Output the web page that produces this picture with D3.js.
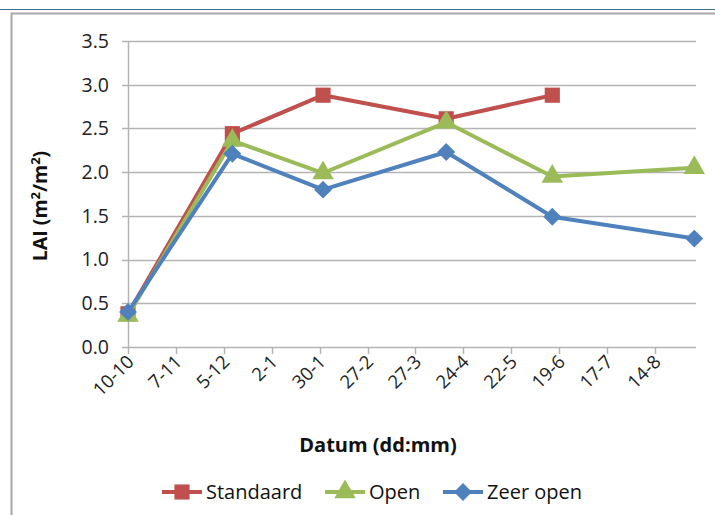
<!DOCTYPE html>
<html>
<head>
<meta charset="utf-8">
<script src="https://cdn.jsdelivr.net/npm/d3@7"></script>
<style>
  body { margin: 0; background: #fff; }
  svg { display: block; font-family: "Open Sans", sans-serif; }
</style>
</head>
<body>
<svg id="chart" width="715" height="515"></svg>
<script>
// data
var dates = ["2012-10-10", "2012-12-10", "2013-02-01", "2013-04-14", "2013-06-15", "2013-09-06"];
var standaard = [0.38, 2.44, 2.88, 2.61, 2.88, null];
var open = [0.36, 2.36, 1.99, 2.57, 1.95, 2.05];
var zeerOpen = [0.40, 2.21, 1.80, 2.23, 1.49, 1.24];

var tickDates = ["2012-10-10", "2012-11-07", "2012-12-05", "2013-01-02", "2013-01-30", "2013-02-27",
  "2013-03-27", "2013-04-24", "2013-05-22", "2013-06-19", "2013-07-17", "2013-08-14"];
var yTicks = [0, 0.5, 1, 1.5, 2, 2.5, 3, 3.5];

var parse = d3.utcParse("%Y-%m-%d");
var fmt = d3.utcFormat("%-d-%-m");

var svg = d3.select("#chart");

// outer frame
svg.append("line").attr("x1", 0).attr("x2", 715).attr("y1", 9.5).attr("y2", 9.5)
  .style("stroke", "#3a7090").style("stroke-width", 1.2);
svg.append("rect").attr("x", 11.5).attr("y", 13.5).attr("width", 720).attr("height", 520)
  .style("fill", "none").style("stroke", "#a8a8a8").style("stroke-width", 2);

var margin = { left: 128, right: 696, top: 41, bottom: 347 };

var x = d3.scaleUtc()
  .domain([parse("2012-10-10"), parse("2013-09-07")])
  .range([margin.left, margin.right]);

var y = d3.scaleLinear()
  .domain([0, 3.5])
  .range([margin.bottom, margin.top]);

// horizontal gridlines + y labels
var gy = svg.append("g");
gy.selectAll("line").data(yTicks).enter().append("line")
  .attr("x1", margin.left - 6).attr("x2", margin.right)
  .attr("y1", function (d) { return Math.round(y(d)) + 0.5; })
  .attr("y2", function (d) { return Math.round(y(d)) + 0.5; })
  .style("stroke", "#b4b4b4").style("stroke-width", 1.5);
gy.selectAll("text").data(yTicks).enter().append("text")
  .attr("x", 109).attr("y", function (d) { return y(d); })
  .attr("dy", "0.35em")
  .attr("text-anchor", "end")
  .style("font-size", "19.5px").style("fill", "#222")
  .text(function (d) { return d.toFixed(1); });

// y axis line
svg.append("line").attr("x1", margin.left + 0.5).attr("x2", margin.left + 0.5)
  .attr("y1", margin.top).attr("y2", margin.bottom)
  .style("stroke", "#b4b4b4").style("stroke-width", 1.5);

// x ticks + labels
var gx = svg.append("g");
gx.selectAll("line").data(tickDates).enter().append("line")
  .attr("x1", function (d) { return Math.round(x(parse(d))) + 0.5; })
  .attr("x2", function (d) { return Math.round(x(parse(d))) + 0.5; })
  .attr("y1", margin.bottom).attr("y2", margin.bottom + 7)
  .style("stroke", "#b4b4b4").style("stroke-width", 1.5);
gx.selectAll("text").data(tickDates).enter().append("text")
  .attr("text-anchor", "end")
  .attr("transform", function (d) { return "translate(" + (x(parse(d)) + 7) + "," + 363 + ") rotate(-45)"; })
  .style("font-size", "18.5px").style("fill", "#222")
  .text(function (d) { return fmt(parse(d)); });

// axis titles
svg.append("text")
  .attr("x", 378).attr("y", 452)
  .attr("text-anchor", "middle")
  .style("font-size", "20px").style("font-weight", "bold").style("fill", "#111")
  .text("Datum (dd:mm)");

var yt = svg.append("text")
  .attr("transform", "translate(47,206) rotate(-90)")
  .attr("text-anchor", "middle")
  .style("font-size", "19.5px").style("font-weight", "bold").style("fill", "#111");
yt.append("tspan").text("LAI (m");
yt.append("tspan").attr("dy", -7).style("font-size", "13px").text("2");
yt.append("tspan").attr("dy", 7).text("/m");
yt.append("tspan").attr("dy", -7).style("font-size", "13px").text("2");
yt.append("tspan").attr("dy", 7).text(")");

// series
var series = [
  { name: "Standaard", values: standaard, color: "#C0504D", symbol: d3.symbolSquare, size: 230, rot: 0 },
  { name: "Open", values: open, color: "#9BBB59", symbol: d3.symbolTriangle, size: 200, rot: 0 },
  { name: "Zeer open", values: zeerOpen, color: "#4F81BD", symbol: d3.symbolSquare, size: 160, rot: 45 }
];

var line = d3.line()
  .defined(function (d) { return d.v != null; })
  .x(function (d) { return x(d.date); })
  .y(function (d) { return y(d.v); });

series.forEach(function (s) {
  var pts = dates.map(function (d, i) { return { date: parse(d), v: s.values[i] }; });
  svg.append("path")
    .datum(pts)
    .attr("d", line)
    .style("fill", "none").style("stroke", s.color).style("stroke-width", 4)
    .style("stroke-linejoin", "round");
  svg.append("g").selectAll("path")
    .data(pts.filter(function (p) { return p.v != null; }))
    .enter().append("path")
    .attr("transform", function (p) { return "translate(" + x(p.date) + "," + y(p.v) + ") rotate(" + s.rot + ")"; })
    .attr("d", d3.symbol().type(s.symbol).size(s.size))
    .style("fill", s.color);
});

// legend
var legendX = [162, 325, 443];
var lg = svg.append("g");
series.forEach(function (s, i) {
  var lx = legendX[i];
  lg.append("line").attr("x1", lx).attr("x2", lx + 40).attr("y1", 492).attr("y2", 492)
    .style("stroke", s.color).style("stroke-width", 4);
  lg.append("path")
    .attr("transform", "translate(" + (lx + 20) + ",492) rotate(" + s.rot + ")")
    .attr("d", d3.symbol().type(s.symbol).size(s.size))
    .style("fill", s.color);
  lg.append("text")
    .attr("x", lx + 44).attr("y", 492).attr("dy", "0.35em")
    .style("font-size", "20px").style("fill", "#111")
    .text(s.name);
});
</script>
</body>
</html>
